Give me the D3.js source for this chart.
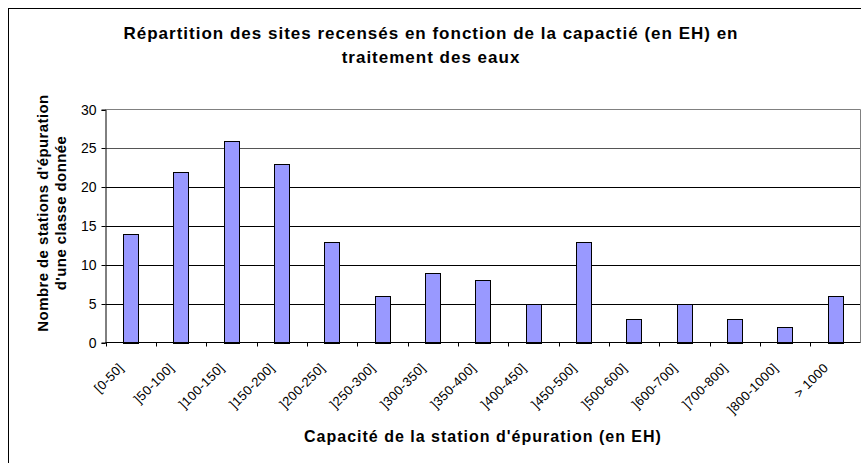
<!DOCTYPE html>
<html>
<head>
<meta charset="utf-8">
<script src="https://cdn.jsdelivr.net/npm/d3@7"></script>
<style>
  body { margin: 0; background: #fff; }
  text { font-family: "Liberation Sans", Arial, sans-serif; fill: #000; }
</style>
</head>
<body>
<div id="chart"></div>
<script>
// donnees
const classes = ["[0-50]", "]50-100]", "]100-150]", "]150-200]", "]200-250]", "]250-300]",
  "]300-350]", "]350-400]", "]400-450]", "]450-500]", "]500-600]", "]600-700]",
  "]700-800]", "]800-1000]", "> 1000"];
const nbStations = [14, 22, 26, 23, 13, 6, 9, 8, 5, 13, 3, 5, 3, 2, 6];
const yTicks = [0, 5, 10, 15, 20, 25, 30];

const titre = ["Répartition des sites recensés en fonction de la capactié (en EH) en", "traitement des eaux"];
const titreY = ["Nombre de stations d'épuration", "d'une classe donnée"];
const titreX = "Capacité de la station d'épuration (en EH)";

const width = 861, height = 463;
const plot = { left: 105.5, right: 860.5, top: 109.5, bottom: 342.5 };

const svg = d3.select("#chart").append("svg")
  .attr("width", width).attr("height", height);

// cadre du graphique
svg.append("rect")
  .attr("x", 8.5).attr("y", 8.5)
  .attr("width", width + 20).attr("height", height + 20)
  .attr("fill", "#fff").attr("stroke", "#000");

const x = d3.scaleBand().domain(classes).range([plot.left, plot.right]).padding(0);
const y = d3.scaleLinear().domain([0, 30]).range([plot.bottom, plot.top]);

// grille
svg.append("g").selectAll("line").data(yTicks.filter(d => d > 0 && d < 30)).join("line")
  .attr("x1", plot.left).attr("x2", plot.right)
  .attr("y1", d => Math.round(y(d)) + 0.5).attr("y2", d => Math.round(y(d)) + 0.5)
  .attr("stroke", d => d == 25 ? "#555" : "#000");

// bord de la zone de traçage (haut, droite)
svg.append("path")
  .attr("d", `M${plot.left},${plot.top}H${plot.right}V${plot.bottom}`)
  .attr("fill", "none").attr("stroke", "#808080");

// barres
const bw = x.bandwidth() * 0.3;
svg.append("g").selectAll("rect").data(nbStations).join("rect")
  .attr("x", (d, i) => Math.round(x(classes[i]) + x.bandwidth() / 2 - bw / 2) + 0.5)
  .attr("y", d => Math.round(y(d)) + 0.5)
  .attr("width", Math.round(bw))
  .attr("height", d => Math.round(y(0)) - Math.round(y(d)))
  .attr("fill", "#9999ff").attr("stroke", "#000");

// axe Y
const axeY = svg.append("g").attr("transform", `translate(${plot.left},0)`)
  .call(d3.axisLeft(y).tickValues(yTicks).tickSize(4).tickPadding(5));
axeY.select(".domain").attr("stroke", "#000");
axeY.selectAll("text").style("font-size", "14px").attr("font-family", null);
axeY.selectAll(".tick").attr("transform", d => `translate(0,${Math.round(y(d)) + 0.5})`);

// axe X (graduations entre les classes)
const bornes = d3.range(classes.length + 1).map(i => plot.left + i * x.step());
const axeX = svg.append("g");
axeX.append("line")
  .attr("x1", plot.left).attr("x2", plot.right)
  .attr("y1", plot.bottom).attr("y2", plot.bottom).attr("stroke", "#000");
axeX.selectAll("line.tk").data(bornes).join("line").attr("class", "tk")
  .attr("x1", d => Math.round(d) + 0.5).attr("x2", d => Math.round(d) + 0.5)
  .attr("y1", plot.bottom).attr("y2", plot.bottom + 4).attr("stroke", "#000");
axeX.selectAll("text").data(classes).join("text")
  .attr("transform", d => `translate(${x(d) + x.bandwidth() / 2 - 9.5},${plot.bottom + 23}) rotate(-45)`)
  .attr("text-anchor", "end")
  .attr("dy", "0.35em")
  .style("font-size", "13px").style("letter-spacing", "0.3px")
  .text(d => d);

// titres
svg.append("g").selectAll("text").data(titre).join("text")
  .attr("x", 431).attr("y", (d, i) => 39 + i * 24)
  .attr("text-anchor", "middle")
  .style("font-size", "17px").style("font-weight", "bold").style("letter-spacing", "1px")
  .text(d => d);

svg.append("g").selectAll("text").data(titreY).join("text")
  .attr("transform", (d, i) => `translate(${48 + i * 18},213) rotate(-90)`)
  .attr("text-anchor", "middle")
  .style("font-size", "15px").style("font-weight", "bold").style("letter-spacing", "0.4px")
  .text(d => d);

svg.append("text")
  .attr("x", (plot.left + plot.right) / 2).attr("y", 442)
  .attr("text-anchor", "middle")
  .style("font-size", "16px").style("font-weight", "bold").style("letter-spacing", "1px")
  .text(titreX);
</script>
</body>
</html>
